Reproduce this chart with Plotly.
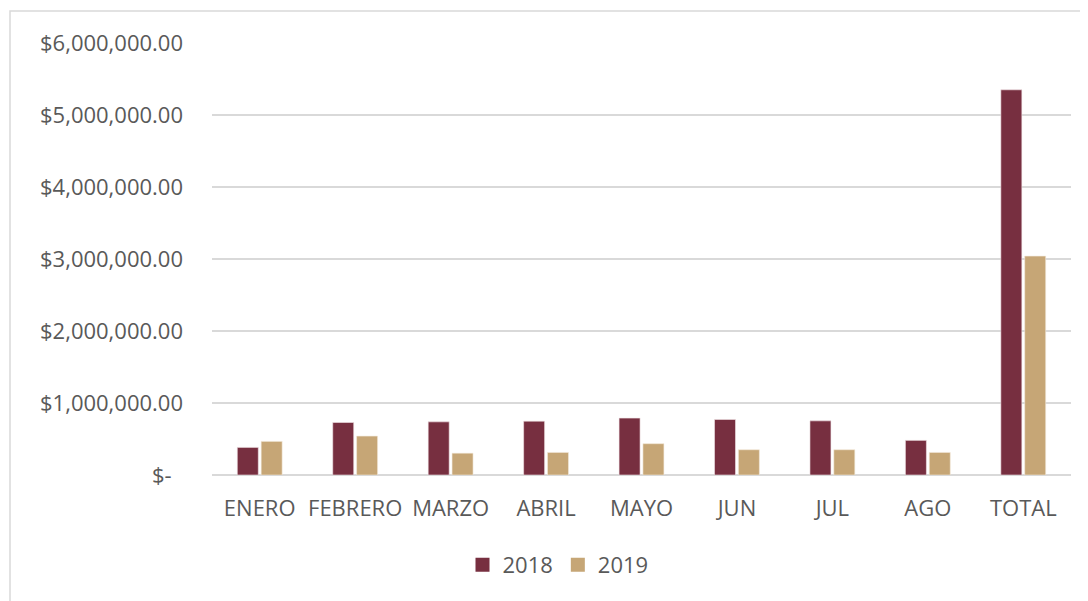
import plotly.graph_objects as go

categories = ["ENERO", "FEBRERO", "MARZO", "ABRIL", "MAYO", "JUN", "JUL", "AGO", "TOTAL"]
values_2018 = [383000, 729000, 738000, 748000, 790000, 771000, 752000, 481000, 5350000]
values_2019 = [467000, 541000, 303000, 313000, 435000, 351000, 351000, 313000, 3040000]
tick_vals = [0, 1000000, 2000000, 3000000, 4000000, 5000000, 6000000]
tick_text = ["$-\u00a0\u00a0", "$1,000,000.00", "$2,000,000.00", "$3,000,000.00",
             "$4,000,000.00", "$5,000,000.00", "$6,000,000.00"]
series_names = ["2018", "2019"]
colors = ["#772F40", "#C6A676"]
edge_colors = ["#F2E6E8", "#F4EBDD"]

FONT = "Open Sans"
TXT = "#595959"
FS = 22

fig = go.Figure()
for name, vals, col, edge in zip(series_names, [values_2018, values_2019], colors, edge_colors):
    fig.add_trace(go.Bar(name=name, x=categories, y=vals, showlegend=False,
                         marker=dict(color=col, line=dict(color=edge, width=0.6))))
for name, col in zip(series_names, colors):
    fig.add_trace(go.Scatter(name=name, x=[None], y=[None], mode="markers",
                             marker=dict(symbol="square", size=14, color=col)))

# page has ~8px body offset; compensate
OFF = 8
W, H = 1088, 601
L = 212 - OFF
T = 43 - OFF
R = W - (1071 - OFF)
B = H - (475 - OFF)
pw = W - L - R
ph = H - T - B

def px_to_paper_x(px):
    return (px - OFF - L) / pw

def px_to_paper_y(py):
    return (H - B - (py - OFF)) / ph

fig.update_layout(
    width=W, height=H,
    margin=dict(l=L, r=R, t=T, b=B, autoexpand=False),
    paper_bgcolor="white", plot_bgcolor="white",
    barmode="group", bargap=0.5, bargroupgap=0.12,
    font=dict(family=FONT, size=FS, color=TXT),
    showlegend=True,
    legend=dict(orientation="h", x=px_to_paper_x(558), xanchor="center",
                y=px_to_paper_y(565), yanchor="middle",
                font=dict(family=FONT, size=FS, color=TXT),
                bgcolor="rgba(0,0,0,0)", itemwidth=30),
    xaxis=dict(showgrid=False, showline=False, ticks="", zeroline=False,
               tickfont=dict(family=FONT, size=FS, color=TXT), ticklabelstandoff=18),
    yaxis=dict(range=[0, 6000000], tickvals=tick_vals, ticktext=tick_text,
               showgrid=True, gridcolor="#D9D9D9", gridwidth=1.5,
               zeroline=True, zerolinecolor="#D9D9D9", zerolinewidth=1.5,
               showline=False, ticks="", ticklabelstandoff=28,
               tickfont=dict(family=FONT, size=FS, color=TXT)),
    shapes=[dict(type="rect", xref="paper", yref="paper",
                 x0=px_to_paper_x(10), x1=px_to_paper_x(W + 30),
                 y0=px_to_paper_y(H + 30), y1=px_to_paper_y(11),
                 line=dict(color="#D9D9D9", width=1.5), fillcolor="rgba(0,0,0,0)", layer="below")],
)

fig.write_html("out.html")
